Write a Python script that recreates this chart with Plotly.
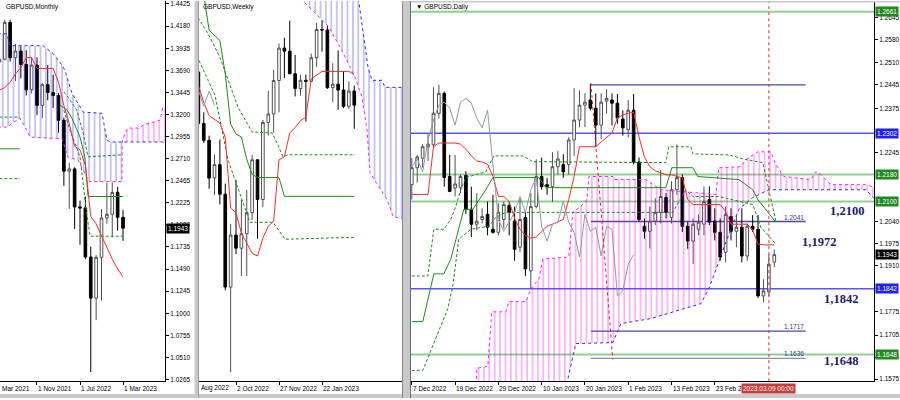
import plotly.graph_objects as go

FONT = "Liberation Sans, Arial, sans-serif"

# ======================= MONTHLY (index: Jan 2021 = 0) =======================
mon_x = list(range(2, 27))
mon_open = [1.3931, 1.3783, 1.3814, 1.4221, 1.3830, 1.3904, 1.3756, 1.3474, 1.3748, 1.3302, 1.3532, 1.3445, 1.3411,
            1.3137, 1.2574, 1.2599, 1.2178, 1.2167, 1.1623, 1.1168, 1.1620, 1.2056, 1.2097, 1.2339, 1.2063]
mon_high = [1.4017, 1.4009, 1.4250, 1.4250, 1.3984, 1.3958, 1.3913, 1.3835, 1.3834, 1.3549, 1.3749, 1.3644, 1.3438,
            1.3167, 1.2667, 1.2617, 1.2247, 1.2294, 1.1738, 1.1645, 1.2154, 1.2446, 1.2448, 1.2401, 1.2144]
mon_low = [1.3669, 1.3668, 1.3800, 1.3787, 1.3571, 1.3602, 1.3412, 1.3434, 1.3194, 1.3161, 1.3358, 1.3273, 1.3000,
           1.2411, 1.2155, 1.1934, 1.1760, 1.1600, 1.0350, 1.0924, 1.1142, 1.1992, 1.1841, 1.1915, 1.1802]
mon_close = [1.3783, 1.3814, 1.4221, 1.3830, 1.3904, 1.3756, 1.3474, 1.3748, 1.3302, 1.3532, 1.3445, 1.3411, 1.3137,
             1.2574, 1.2599, 1.2178, 1.2167, 1.1623, 1.1168, 1.1620, 1.2056, 1.2097, 1.2339, 1.2063, 1.1943]
mon_tenkan_x = list(range(3, 27))
mon_tenkan = [1.3469, 1.3500, 1.3557, 1.3650, 1.3722, 1.3832, 1.3832, 1.3711, 1.3711, 1.3711, 1.3711, 1.3560,
              1.3300, 1.3100, 1.2850, 1.2810, 1.2640, 1.2073, 1.1990, 1.1860, 1.1720, 1.1600, 1.1491, 1.1403]
mon_kijun_x = [3.0, 6.8, None, 14.3, 15.6, 16.5, 18.0, 18.9, 19.5, 26.0]
mon_kijun_y = [1.2821, 1.2821, None, 1.3304, 1.3250, 1.3161, 1.2952, 1.2733, 1.2293, 1.2293]
mon_upper_x = [3.0, 6.8, None, 15.0, 15.8, 17.4, 18.6, 19.5, 26.0]
mon_upper_y = [1.3172, 1.3172, None, 1.3450, 1.3392, 1.3249, 1.2996, 1.2733, 1.2755]
mon_lower_x = [3.0, 6.8, None, 15.0, 16.0, 18.0, 19.3, 19.9, 26.0]
mon_lower_y = [1.2491, 1.2491, None, 1.3250, 1.3050, 1.2733, 1.2073, 1.1854, 1.1854]
mon_spanA_x = [2.7, 4.4, 5.0, 11.1, 13.0, 14.7, 15.2, 16.5, 18.6, 22.1, 23.0, 23.6, 25.85, 34.0]
mon_spanA_y = [1.4095, 1.4095, 1.3963, 1.3963, 1.3876, 1.3744, 1.3689, 1.3436, 1.3227, 1.3216, 1.2919, 1.2897,
               1.2897, 1.2897]
mon_spanB_x = [2.7, 4.4, 6.8, 7.8, 8.7, 13.9, 14.7, 15.8, 17.6, 19.7, 25.8, 25.85, 26.4, 26.9, 29.2, 29.7, 32.9,
               33.4, 34.0]
mon_spanB_y = [1.3062, 1.3062, 1.3161, 1.3062, 1.2952, 1.2930, 1.2930, 1.2722, 1.2700, 1.2458, 1.2458, 1.2897,
               1.3000, 1.3051, 1.3051, 1.3084, 1.3139, 1.3282, 1.3282]
mon_cross = 25.85
mon_ticks = [1.4425, 1.4180, 1.3935, 1.3690, 1.3445, 1.3200, 1.2955, 1.2710, 1.2465, 1.2225, 1.1980, 1.1735,
             1.1490, 1.1245, 1.1000, 1.0755, 1.0510, 1.0265]
mon_time_x = [2, 10, 18, 26]
mon_time_text = ["1 Mar 2021", "1 Nov 2021", "1 Jul 2022", "1 Mar 2023"]

# ======================= WEEKLY (index: 31 Jul 2022 = 0) =======================
wk_x = list(range(0, 32))
wk_open = [1.2170, 1.2076, 1.2141, 1.1834, 1.1733, 1.1508, 1.1588, 1.1412, 1.0858, 1.1168, 1.1090, 1.1176, 1.1302,
           1.1617, 1.1380, 1.1840, 1.1890, 1.2090, 1.2283, 1.2265, 1.2130, 1.2042, 1.2091, 1.2085, 1.2226, 1.2394,
           1.2391, 1.2047, 1.2068, 1.2033, 1.1936, 1.2027]
wk_high = [1.2294, 1.2276, 1.2143, 1.1900, 1.1761, 1.1648, 1.1738, 1.1475, 1.1235, 1.1496, 1.1380, 1.1438, 1.1646,
           1.1620, 1.1855, 1.2029, 1.2153, 1.2310, 1.2345, 1.2446, 1.2242, 1.2125, 1.2125, 1.2250, 1.2435, 1.2448,
           1.2418, 1.2193, 1.2269, 1.2145, 1.2085, 1.2060]
wk_low = [1.2004, 1.2005, 1.1818, 1.1717, 1.1444, 1.1406, 1.1351, 1.0838, 1.0350, 1.1054, 1.0924, 1.0924, 1.1258,
          1.1146, 1.1335, 1.1762, 1.1778, 1.1900, 1.2105, 1.2130, 1.1995, 1.2000, 1.1845, 1.2080, 1.2170, 1.2262,
          1.2040, 1.1961, 1.1915, 1.1925, 1.1920, 1.1802]
wk_close = [1.2076, 1.2141, 1.1834, 1.1733, 1.1508, 1.1588, 1.1412, 1.0858, 1.1168, 1.1090, 1.1176, 1.1302, 1.1617,
            1.1380, 1.1840, 1.1890, 1.2090, 1.2283, 1.2265, 1.2130, 1.2042, 1.2091, 1.2085, 1.2226, 1.2394, 1.2391,
            1.2047, 1.2068, 1.2033, 1.1936, 1.2027, 1.1943]
wk_line_x = list(range(2, 32))
wk_tenkan = [1.2060, 1.1960, 1.1880, 1.1860, 1.1836, 1.1750, 1.1330, 1.1300, 1.1180, 1.1120, 1.1060, 1.1043,
             1.1150, 1.1220, 1.1252, 1.1617, 1.1635, 1.1777, 1.1810, 1.1850, 1.1872, 1.2100, 1.2120, 1.2144,
             1.2144, 1.2144, 1.2144, 1.2144, 1.2144, 1.2125]
wk_kijun = [1.2650, 1.2600, 1.2390, 1.2360, 1.2328, 1.2130, 1.1830, 1.1770, 1.1753, 1.1620, 1.1530, 1.1511,
            1.1511, 1.1511, 1.1511, 1.1511, 1.1399, 1.1399, 1.1399, 1.1399, 1.1399, 1.1399, 1.1399, 1.1399,
            1.1399, 1.1399, 1.1399, 1.1399, 1.1399, 1.1399]
wk_upper_x = [1.93, 3.79, 6.02, 7.51, 9.37, 11.98, 15.70, 16.63, 17.74, 18.67, 31.14]
wk_upper_y = [1.2464, 1.2369, 1.2227, 1.2091, 1.1931, 1.1783, 1.1777, 1.1718, 1.1635, 1.1647, 1.1647]
wk_lower_x = [2.12, 5.09, 7.51, 9.74, 11.6, 15.88, 17.19, 18.12, 31.14]
wk_lower_y = [1.2209, 1.2002, 1.1617, 1.1410, 1.1244, 1.1244, 1.1185, 1.1143, 1.1155]
wk_spanA_x = [20.53, 31.70, 33.56, 34.30, 36.16, 36.72, 40.07]
wk_spanA_y = [1.2801, 1.2594, 1.2168, 1.2091, 1.2091, 1.2049, 1.2049]
wk_spanB_x = [20.53, 21.47, 26.12, 28.72, 31.14, 32.44, 33.37, 33.93, 37.09, 38.21, 40.07]
wk_spanB_y = [1.2612, 1.2564, 1.2416, 1.2268, 1.2109, 1.1990, 1.1795, 1.1540, 1.1380, 1.1280, 1.1262]
wk_time_x = [1, 9, 17, 25]
wk_time_text = ["7 Aug 2022", "2 Oct 2022", "27 Nov 2022", "22 Jan 2023"]

# ======================= DAILY (index: 7 Dec 2022 = 0) =======================
d_x = list(range(0, 68))
d_open = [1.2150, 1.2200, 1.2228, 1.2262, 1.2268, 1.2361, 1.2420, 1.2174, 1.2140, 1.2141,
          1.2177, 1.2077, 1.2033, 1.2047, 1.2062, 1.2018, 1.2009, 1.2047, 1.2088, 1.2042,
          1.1965, 1.2053, 1.1895, 1.2085, 1.2174, 1.2150, 1.2144, 1.2203, 1.2209, 1.2209,
          1.2282, 1.2341, 1.2385, 1.2400, 1.2376, 1.2326, 1.2397, 1.2400, 1.2391, 1.2344,
          1.2312, 1.2370, 1.2217, 1.2027, 1.2012, 1.2042, 1.2068, 1.2112, 1.2053, 1.2135,
          1.2171, 1.2027, 1.1983, 1.2018, 1.2033, 1.2106, 1.2042, 1.2009, 1.1950, 1.2056,
          1.2012, 1.2024, 1.1939, 1.2027, 1.2018, 1.1821, 1.1833, 1.1921]
d_high = [1.2229, 1.2238, 1.2270, 1.2300, 1.2438, 1.2446, 1.2425, 1.2238, 1.2238, 1.2180,
          1.2190, 1.2144, 1.2125, 1.2080, 1.2100, 1.2120, 1.2095, 1.2100, 1.2100, 1.2085,
          1.2110, 1.2070, 1.2125, 1.2225, 1.2230, 1.2170, 1.2246, 1.2250, 1.2240, 1.2290,
          1.2435, 1.2429, 1.2420, 1.2448, 1.2420, 1.2420, 1.2432, 1.2420, 1.2418, 1.2370,
          1.2400, 1.2418, 1.2230, 1.2050, 1.2085, 1.2110, 1.2193, 1.2125, 1.2160, 1.2269,
          1.2180, 1.2040, 1.2050, 1.2062, 1.2145, 1.2145, 1.2080, 1.2050, 1.2085, 1.2080,
          1.2060, 1.2080, 1.2035, 1.2060, 1.2060, 1.1870, 1.1945, 1.1958]
d_low = [1.2106, 1.2156, 1.2200, 1.2220, 1.2260, 1.2345, 1.2144, 1.2128, 1.2115, 1.2125,
         1.2063, 1.1995, 1.2015, 1.2035, 1.2000, 1.2005, 1.2000, 1.2020, 1.2000, 1.1925,
         1.1950, 1.1880, 1.1845, 1.2080, 1.2135, 1.2120, 1.2099, 1.2180, 1.2170, 1.2180,
         1.2235, 1.2320, 1.2320, 1.2370, 1.2262, 1.2285, 1.2360, 1.2325, 1.2330, 1.2295,
         1.2290, 1.2210, 1.2040, 1.1990, 1.1961, 1.2030, 1.2035, 1.2050, 1.2035, 1.2120,
         1.2010, 1.1960, 1.1915, 1.2000, 1.2000, 1.2030, 1.1985, 1.1925, 1.1920, 1.1985,
         1.1965, 1.1920, 1.1925, 1.2010, 1.1815, 1.1802, 1.1820, 1.1906]
d_close = [1.2200, 1.2232, 1.2262, 1.2270, 1.2361, 1.2420, 1.2171, 1.2130, 1.2152, 1.2174,
           1.2077, 1.2033, 1.2042, 1.2056, 1.2024, 1.2009, 1.2068, 1.2091, 1.2068, 1.1959,
           1.2047, 1.1901, 1.2085, 1.2174, 1.2144, 1.2144, 1.2203, 1.2226, 1.2188, 1.2282,
           1.2341, 1.2385, 1.2394, 1.2376, 1.2326, 1.2394, 1.2405, 1.2391, 1.2347, 1.2318,
           1.2370, 1.2217, 1.2047, 1.2012, 1.2042, 1.2068, 1.2115, 1.2068, 1.2135, 1.2171,
           1.2027, 1.1983, 1.2033, 1.2039, 1.2100, 1.2039, 1.2009, 1.1936, 1.2062, 1.2012,
           1.2024, 1.1939, 1.2027, 1.2018, 1.1821, 1.1836, 1.1915, 1.1943]
d_tenkan = [1.2121, 1.2121, 1.2121, 1.2121, 1.2262, 1.2273, 1.2273, 1.2273, 1.2273, 1.2270,
            1.2255, 1.2235, 1.2220, 1.2217, 1.2210, 1.2174, 1.2115, 1.2115, 1.2100, 1.2050,
            1.2018, 1.2000, 1.1992, 1.1995, 1.2010, 1.2027, 1.2033, 1.2039, 1.2047, 1.2106,
            1.2174, 1.2262, 1.2262, 1.2262, 1.2262, 1.2276, 1.2291, 1.2303, 1.2347, 1.2356,
            1.2361, 1.2364, 1.2291, 1.2232, 1.2203, 1.2191, 1.2185, 1.2179, 1.2179, 1.2174,
            1.2170, 1.2106, 1.2091, 1.2091, 1.2091, 1.2091, 1.2091, 1.2091, 1.2071, 1.2033,
            1.2033, 1.2033, 1.2033, 1.2016, 1.1974, 1.1972, 1.1972, 1.1972]
d_kijun_x = [0, 2.03, 4.07, 5.91, 7.21, 9.61, 11.28, 13.68, 14.97, 23.48, 24.77, 46.95, 48.06, 51.94, 52.87,
             60.44, 63.03, 63.96, 67.28]
d_kijun_y = [1.1745, 1.1745, 1.1886, 1.1886, 1.1930, 1.2077, 1.2077, 1.2135, 1.2171, 1.2171, 1.2141, 1.2141,
             1.2200, 1.2200, 1.2174, 1.2165, 1.2135, 1.2106, 1.2039]
d_upper_x = [0, 2.96, 4.07, 5.91, 7.21, 8.13, 9.06, 9.98, 13.68, 15.16, 20.52, 22.37, 46.95, 47.50, 51.57,
             51.94, 58.60, 61.74, 64.88, 65.99, 67.28]
d_upper_y = [1.1880, 1.1880, 1.2018, 1.2018, 1.2047, 1.2086, 1.2135, 1.2171, 1.2188, 1.2235, 1.2235, 1.2218,
             1.2215, 1.2262, 1.2262, 1.2241, 1.2238, 1.2224, 1.2215, 1.2135, 1.2042]
d_lower_x = [0, 2.03, 6.65, 7.58, 8.69, 10.91, 14.23, 15.53, 17.38, 48.24, 50.65, 51.94, 56.75, 63.03, 64.51,
             67.28]
d_lower_y = [1.1601, 1.1601, 1.1783, 1.1851, 1.1989, 1.2018, 1.2027, 1.2053, 1.2068, 1.2068, 1.2135, 1.2115,
             1.2115, 1.2091, 1.2024, 1.1974]
d_spanB_x = [11.83, 12.01, 14.05, 14.79, 17.38, 17.93, 21.07, 22.00, 23.48, 24.21, 29.02, 29.76, 31.24, 32.35,
             32.72, 37.15, 37.34, 43.25, 46.03, 56.19, 56.75, 60.81, 61.74, 63.96, 66.36, 67.28, 68.76, 73.75,
             74.68, 75.60, 77.45, 83.92, 86.0]
d_spanB_y = [1.1540, 1.1607, 1.1613, 1.1774, 1.1774, 1.1804, 1.1804, 1.1842, 1.1871, 1.1930, 1.1936, 1.2068,
             1.2086, 1.2106, 1.2174, 1.2174, 1.2165, 1.2165, 1.2135, 1.2121, 1.2200, 1.2203, 1.2224, 1.2247,
             1.2247, 1.2209, 1.2174, 1.2165, 1.2188, 1.2180, 1.2150, 1.2150, 1.2140]
d_spanA_x = [11.83, 28.0, 28.47, 30.31, 37.15, 38.63, 44.18, 53.42, 54.90, 56.75, 58.60, 60.44, 63.03, 65.99,
             67.28, 83.92, 86.0]
d_spanA_y = [1.1500, 1.1500, 1.1548, 1.1680, 1.1683, 1.1739, 1.1754, 1.1798, 1.1842, 1.1924, 1.2003, 1.2077,
             1.2112, 1.2135, 1.2135, 1.2135, 1.2100]
d_ticks = [1.2645, 1.2580, 1.2510, 1.2445, 1.2375, 1.2245, 1.2040, 1.1975, 1.1910, 1.1775, 1.1705, 1.1640, 1.1575]
d_time_x = [0, 8, 16, 24, 32, 40, 48, 56]
d_time_text = ["7 Dec 2022", "19 Dec 2022", "29 Dec 2022", "10 Jan 2023", "20 Jan 2023", "1 Feb 2023",
               "13 Feb 2023", "23 Feb 2023"]
d_level_vals = [1.2661, 1.2302, 1.2180, 1.2100, 1.1842, 1.1648]
d_level_kind = ["green", "blue", "green", "green", "blue", "green"]
d_fib_vals = [1.2445, 1.2041, 1.1717, 1.1636]
d_fib_labels = ["", "1.2041", "1.1717", "1.1636"]
d_fib_start, d_fib_end = 33.1, 72.8
d_slant_x = [33.1, 37.15]
d_slant_y = [1.2450, 1.1633]
d_cursor_idx = 66
d_cursor_text = "2023.03.09 00:00"
d_last_price = 1.1943
big_text = ["1,2100", "1,1972", "1,1842", "1,1648"]
big_x = [80.4, 75.2, 79.3, 79.3]
big_y = [1.2071, 1.1980, 1.1812, 1.1628]

# ======================= FIGURE =======================
fig = go.Figure()
C_GREEN_LINE = "#1c8c1c"
C_RED = "#ff2a2a"
C_BLUE_DOT = "#2a2aff"
C_MAG = "#ff1aff"
C_CHIKOU = "#8f9aa6"


def add_candles(x, o, h, l, c, xa, ya):
    fig.add_trace(go.Candlestick(
        x=x, open=o, high=h, low=l, close=c, xaxis=xa, yaxis=ya,
        increasing=dict(line=dict(color="#505050", width=1), fillcolor="#ffffff"),
        decreasing=dict(line=dict(color="#000000", width=1), fillcolor="#000000"),
        whiskerwidth=0, showlegend=False, hoverinfo="skip"))


def add_line(x, y, xa, ya, color, width=1.0, dash="solid"):
    fig.add_trace(go.Scatter(x=x, y=y, xaxis=xa, yaxis=ya, mode="lines",
                             line=dict(color=color, width=width, dash=dash),
                             connectgaps=False, showlegend=False, hoverinfo="skip"))


def seg(xs, ys, lo, hi):
    pts = [(a, b) for a, b in zip(xs, ys) if lo <= a <= hi]
    return [p[0] for p in pts], [p[1] for p in pts]


def add_cloud(xt, yt, xb, yb, color, xa, ya):
    fig.add_trace(go.Scatter(
        x=list(xt) + list(xb)[::-1], y=list(yt) + list(yb)[::-1], xaxis=xa, yaxis=ya,
        mode="none", fill="toself", fillcolor="rgba(0,0,0,0)",
        fillpattern=dict(shape="|", fgcolor=color, bgcolor="rgba(0,0,0,0)", size=5.4, solidity=0.2,
                         fillmode="replace"),
        showlegend=False, hoverinfo="skip"))


# ---- monthly ----
bx1, by1 = seg(mon_spanA_x, mon_spanA_y, -99, mon_cross)
bx2, by2 = seg(mon_spanB_x, mon_spanB_y, -99, mon_cross)
add_cloud(bx1, by1, bx2, by2, "rgba(50,50,255,0.5)", "x", "y")
mx1, my1 = seg(mon_spanB_x, mon_spanB_y, mon_cross, 99)
mx2, my2 = seg(mon_spanA_x, mon_spanA_y, mon_cross, 99)
add_cloud(mx1, my1, mx2, my2, "rgba(255,0,255,0.5)", "x", "y")
add_line(mon_spanA_x, mon_spanA_y, "x", "y", C_BLUE_DOT, 1, "dot")
add_line(mon_spanB_x, mon_spanB_y, "x", "y", C_MAG, 1, "dot")
add_line(mon_upper_x, mon_upper_y, "x", "y", C_GREEN_LINE, 1, "3px,2px")
add_line(mon_lower_x, mon_lower_y, "x", "y", C_GREEN_LINE, 1, "3px,2px")
add_line(mon_kijun_x, mon_kijun_y, "x", "y", C_GREEN_LINE, 1)
add_line(mon_tenkan_x, mon_tenkan, "x", "y", C_RED, 1)
add_candles(mon_x, mon_open, mon_high, mon_low, mon_close, "x", "y")

# ---- weekly ----
add_cloud(wk_spanA_x, wk_spanA_y, wk_spanB_x, wk_spanB_y, "rgba(50,50,255,0.5)", "x2", "y2")
add_line(wk_spanA_x, wk_spanA_y, "x2", "y2", C_BLUE_DOT, 1, "dot")
add_line(wk_spanB_x, wk_spanB_y, "x2", "y2", C_MAG, 1, "dot")
add_line(wk_upper_x, wk_upper_y, "x2", "y2", C_GREEN_LINE, 1, "3px,2px")
add_line(wk_lower_x, wk_lower_y, "x2", "y2", C_GREEN_LINE, 1, "3px,2px")
add_line(wk_line_x, wk_kijun, "x2", "y2", C_GREEN_LINE, 1)
add_line(wk_line_x, wk_tenkan, "x2", "y2", C_RED, 1)
wk_chikou_x = [w for w in wk_x if w + 26 < len(wk_close)]
add_line(wk_chikou_x, [wk_close[w + 26] for w in wk_chikou_x], "x2", "y2", C_CHIKOU, 1)
add_candles(wk_x, wk_open, wk_high, wk_low, wk_close, "x2", "y2")

# ---- daily ----
add_cloud(d_spanB_x, d_spanB_y, d_spanA_x, d_spanA_y, "rgba(255,0,255,0.5)", "x3", "y3")
add_line(d_spanA_x, d_spanA_y, "x3", "y3", C_BLUE_DOT, 1, "dot")
add_line(d_spanB_x, d_spanB_y, "x3", "y3", C_MAG, 1, "dot")
add_line(d_upper_x, d_upper_y, "x3", "y3", C_GREEN_LINE, 1, "3px,2px")
add_line(d_lower_x, d_lower_y, "x3", "y3", C_GREEN_LINE, 1, "3px,2px")
add_line(d_kijun_x, d_kijun_y, "x3", "y3", C_GREEN_LINE, 1)
add_line(d_x, d_tenkan, "x3", "y3", C_RED, 1)
d_chikou_x = [i for i in d_x if i + 26 < len(d_close)]
add_line(d_chikou_x, [d_close[i + 26] for i in d_chikou_x], "x3", "y3", C_CHIKOU, 1)
add_line(d_slant_x, d_slant_y, "x3", "y3", "#e02020", 1, "dot")
add_candles(d_x, d_open, d_high, d_low, d_close, "x3", "y3")

# horizontal levels (daily)
level_style = {"green": ("#8fd08f", 2), "blue": ("#5555ff", 1.6)}
for v, k in zip(d_level_vals, d_level_kind):
    col, wdt = level_style[k]
    fig.add_shape(type="line", xref="x3 domain", yref="y3", x0=0, x1=1, y0=v, y1=v,
                  line=dict(color=col, width=wdt), layer="below")
for v, lab in zip(d_fib_vals, d_fib_labels):
    fig.add_shape(type="line", xref="x3", yref="y3", x0=d_fib_start, x1=d_fib_end, y0=v, y1=v,
                  line=dict(color="#4a4a9a" if lab != "1.1636" else "#8a8ab8", width=1.3), layer="below")
    if lab:
        fig.add_annotation(x=d_fib_end, y=v, xref="x3", yref="y3", text=lab, showarrow=False,
                           xanchor="right", yanchor="bottom", yshift=-1,
                           font=dict(family=FONT, size=6.5, color="#3a3a8a"))
fig.add_shape(type="line", xref="x3", yref="y3 domain", x0=d_cursor_idx, x1=d_cursor_idx, y0=0, y1=1,
              line=dict(color="#e03030", width=1, dash="dot"), layer="above")

# big labels
for t, bx, by in zip(big_text, big_x, big_y):
    fig.add_annotation(x=bx, y=by, xref="x3", yref="y3", text="<b>" + t + "</b>", showarrow=False,
                       font=dict(family="Liberation Serif, Times New Roman, serif", size=12.5, color="#1c1c6c"))

# axis price boxes
box_colors = {"green": "#1f8a1f", "blue": "#1e1eff"}
for v, k in zip(d_level_vals, d_level_kind):
    fig.add_annotation(x=875 / 900, xref="paper", y=v, yref="y3", text="%.4f" % v, showarrow=False,
                       xanchor="left", yanchor="middle", bgcolor=box_colors[k], borderpad=1,
                       font=dict(family=FONT, size=6.5, color="white"))
fig.add_annotation(x=875 / 900, xref="paper", y=d_last_price, yref="y3", text="%.4f" % d_last_price,
                   showarrow=False, xanchor="left", yanchor="middle", bgcolor="black", borderpad=1,
                   font=dict(family=FONT, size=6.5, color="white"))
fig.add_annotation(x=166 / 900, xref="paper", y=mon_close[-1], yref="y", text="%.4f" % mon_close[-1],
                   showarrow=False, xanchor="left", yanchor="middle", bgcolor="black", borderpad=1,
                   font=dict(family=FONT, size=6.5, color="white"))


# time labels (left-aligned at the tick, MetaTrader style)
def time_labels(tx, tt, xref, lo):
    for x, t in zip(tx, tt):
        if x < lo:
            fig.add_annotation(x=0, xref=xref + " domain", y=0.025, yref="paper", text=t.split(" ", 1)[1],
                               showarrow=False, xanchor="left", yanchor="middle",
                               font=dict(family=FONT, size=6.5, color="black"))
        else:
            fig.add_annotation(x=x, xref=xref, y=0.025, yref="paper", text=t, showarrow=False,
                               xanchor="left", yanchor="middle", xshift=-1,
                               font=dict(family=FONT, size=6.5, color="black"))


X_RANGES = {"x": [3.12, 33.81], "x2": [2.116, 39.88], "x3": [-0.15, 85.43]}
time_labels(mon_time_x, mon_time_text, "x", X_RANGES["x"][0])
time_labels(wk_time_x, wk_time_text, "x2", X_RANGES["x2"][0])
time_labels(d_time_x, d_time_text, "x3", X_RANGES["x3"][0])
fig.add_annotation(x=d_cursor_idx, xref="x3", y=0.025, yref="paper", text=d_cursor_text, showarrow=False,
                   xanchor="center", yanchor="middle", bgcolor="#c83c3c", borderpad=1,
                   font=dict(family=FONT, size=6.5, color="white"))

# titles
for txt, xp in [("GBPUSD,Monthly", 4), ("GBPUSD,Weekly", 201), ("\u25bc GBPUSD,Daily", 414)]:
    fig.add_annotation(x=xp / 900, xref="paper", y=1 - 6 / 400, yref="paper", text=txt, showarrow=False,
                       xanchor="left", yanchor="middle", font=dict(family=FONT, size=6.5, color="black"))

# window frames
frame = "#c9c9c9"
for x0, x1, y0, y1 in [(194.5, 199, 0, 400), (402, 411, 0, 400), (0, 900, 396, 400), (405, 900, 0, 1.5)]:
    fig.add_shape(type="rect", xref="paper", yref="paper", x0=x0 / 900, x1=x1 / 900, y0=1 - y1 / 400,
                  y1=1 - y0 / 400, fillcolor=frame, line=dict(width=0), layer="above")
for xv, col in [(402.5, "#8a8a8a"), (410.5, "#5a6a8a"), (198.5, "#9a9a9a")]:
    fig.add_shape(type="line", xref="paper", yref="paper", x0=xv / 900, x1=xv / 900, y0=0, y1=1,
                  line=dict(color=col, width=1), layer="above")

# axes
ydom = [17 / 400, 1]
common_x = dict(showgrid=False, zeroline=False, showline=True, linecolor="black", linewidth=1, ticks="outside",
                ticklen=3, tickcolor="black", showticklabels=False, fixedrange=True,
                rangeslider=dict(visible=False))
common_y = dict(showgrid=False, zeroline=False, side="right", showline=True, linecolor="black", linewidth=1,
                ticks="outside", ticklen=3, tickcolor="black", fixedrange=True, ticklabeloverflow="allow",
                tickfont=dict(family=FONT, size=6.5, color="black"))
fig.update_layout(
    width=900, height=400, margin=dict(l=0, r=0, t=0, b=0), paper_bgcolor="white", plot_bgcolor="white",
    showlegend=False, hovermode=False,
    xaxis=dict(common_x, domain=[0, 165 / 900], range=X_RANGES["x"], tickvals=mon_time_x, anchor="y"),
    yaxis=dict(common_y, domain=ydom, range=[1.0249, 1.4458], tickvals=mon_ticks,
               ticktext=["%.4f" % v for v in mon_ticks], anchor="x"),
    xaxis2=dict(common_x, domain=[199 / 900, 402 / 900], range=X_RANGES["x2"], tickvals=wk_time_x, anchor="y2"),
    yaxis2=dict(common_y, domain=ydom, range=[1.0297, 1.2564], showticklabels=False, ticks="", anchor="x2"),
    xaxis3=dict(common_x, domain=[411 / 900, 874 / 900], range=X_RANGES["x3"], tickvals=d_time_x, anchor="y3"),
    yaxis3=dict(common_y, domain=ydom, range=[1.1569, 1.2693], tickvals=d_ticks,
                ticktext=["%.4f" % v for v in d_ticks], anchor="x3", mirror=True),
)

fig.write_html("out.html", config={"displayModeBar": False},
               post_script="document.body.style.margin='0px';document.body.style.overflow='hidden';")
